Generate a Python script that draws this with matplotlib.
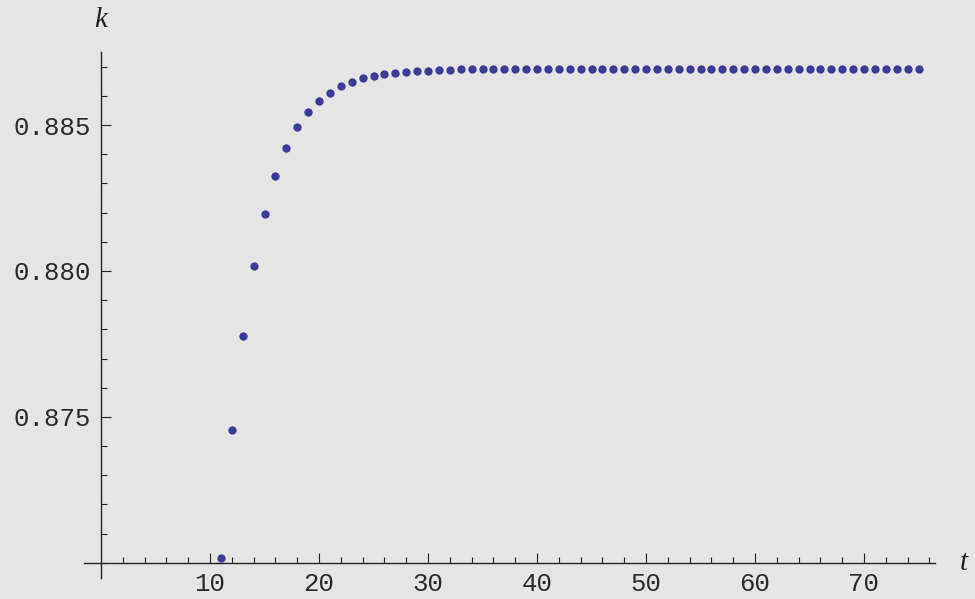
import matplotlib
matplotlib.use("Agg")
import matplotlib.pyplot as plt
import numpy as np

t_values = list(range(11, 76))
k_values = [
    0.87015, 0.87454, 0.87778, 0.88017, 0.88195, 0.88325, 0.88422, 0.88494,
    0.88545, 0.88584, 0.88611, 0.88633, 0.88649, 0.88660, 0.88668, 0.88675,
    0.88680, 0.88683, 0.88685, 0.88687, 0.88689, 0.88690, 0.88691, 0.88692,
    0.88692, 0.88693, 0.88694, 0.88694, 0.88694, 0.88694, 0.88694, 0.88694,
    0.88694, 0.88694, 0.88694, 0.88694, 0.88694, 0.88694, 0.88694, 0.88694,
    0.88694, 0.88694, 0.88694, 0.88694, 0.88694, 0.88694, 0.88694, 0.88694,
    0.88694, 0.88694, 0.88694, 0.88694, 0.88694, 0.88694, 0.88694, 0.88694,
    0.88694, 0.88694, 0.88694, 0.88694, 0.88694, 0.88694, 0.88694, 0.88694,
    0.88694,
]
x_major = [10, 20, 30, 40, 50, 60, 70]
x_major_labels = ["10", "20", "30", "40", "50", "60", "70"]
y_major = [0.875, 0.880, 0.885]
y_major_labels = ["0.875", "0.880", "0.885"]

bg = "#e5e5e5"
ink = "#222222"
label_ink = "#2a2a2a"
dot = "#3c3c96"

W, H = 975, 599
fig = plt.figure(figsize=(W / 100, H / 100), dpi=100, facecolor=bg)
ax = fig.add_axes([0, 0, 1, 1], facecolor=bg)

# pixel mapping
x0_px, sx = 101.0, 10.9          # px of t=0, px per unit
y0_px, sy = 562.7, 29170.0       # px of k=0.87, px per unit
ax.set_xlim(-x0_px / sx, (W - x0_px) / sx)
ax.set_ylim(0.87 - (H - y0_px) / sy, 0.87 + y0_px / sy)

ax.plot(t_values, k_values, linestyle="none", marker="o", markersize=6.0,
        markerfacecolor=dot, markeredgecolor=dot, markeredgewidth=0)

for s in ("top", "right"):
    ax.spines[s].set_visible(False)
ax.spines["left"].set_position(("data", 0))
ax.spines["bottom"].set_position(("data", 0.87))
ax.spines["left"].set_bounds(0.86949, 0.8875)
ax.spines["bottom"].set_bounds(-1.56, 76.5)
for s in ("left", "bottom"):
    ax.spines[s].set_color(ink)
    ax.spines[s].set_linewidth(1.0)

ax.set_xticks(x_major, x_major_labels)
ax.set_xticks(np.arange(2, 77, 2), minor=True)
ax.set_yticks(y_major, y_major_labels)
ax.set_yticks(np.round(np.arange(0.870, 0.8875, 0.001), 3), minor=True)

for lab in ax.get_xticklabels() + ax.get_yticklabels():
    lab.set_fontfamily("Liberation Mono")
    lab.set_fontsize(18.5)
    lab.set_color(label_ink)

ax.tick_params(axis="both", which="major", direction="in", length=7.2,
               width=0.8, color=ink)
ax.tick_params(axis="both", which="minor", direction="in", length=4.3,
               width=0.8, color=ink)
ax.tick_params(axis="x", which="major", pad=7)
ax.tick_params(axis="y", which="major", pad=7)

ax.text(0, 0.87 + (y0_px - 20) / sy, "k", fontfamily="Liberation Serif",
        fontstyle="italic", fontsize=21, color=ink, ha="center", va="center")
ax.text((964 - x0_px) / sx, 0.87, "t", fontfamily="Liberation Serif",
        fontstyle="italic", fontsize=21, color=ink, ha="center", va="center")

fig.savefig("out.png", dpi=100, facecolor=bg)
